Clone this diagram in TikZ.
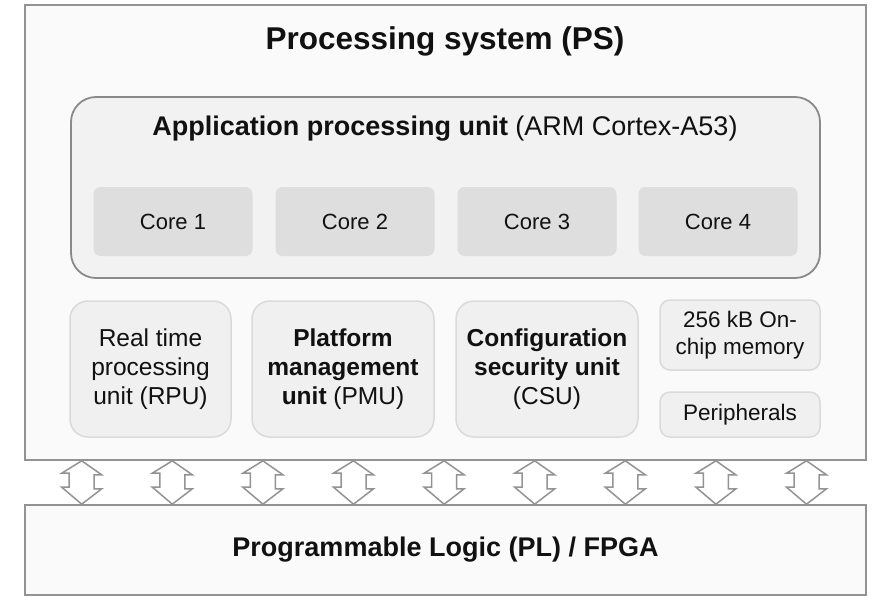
\documentclass[tikz,border=0pt]{standalone}
\usepackage{fontspec}
\setmainfont{Liberation Sans}
\definecolor{psfill}{HTML}{FAFAFA}
\definecolor{psline}{HTML}{939393}
\definecolor{apufill}{HTML}{F2F2F2}
\definecolor{apuline}{HTML}{8A8A8A}
\definecolor{corefill}{HTML}{DEDEDE}
\definecolor{unitfill}{HTML}{F0F0F0}
\definecolor{unitline}{HTML}{DADADA}
\definecolor{txt}{HTML}{111111}
\tikzset{
  bigbox/.style={draw=psline, fill=psfill, line width=1.6pt, inner sep=0pt},
  apubox/.style={draw=apuline, fill=apufill, line width=1.8pt, rounded corners=25pt, inner sep=0pt},
  corebox/.style={fill=corefill, rounded corners=7pt, inner sep=0pt, minimum width=159pt, minimum height=69pt, text=txt, font=\fontsize{22}{26}\selectfont},
  unitbox/.style={draw=unitline, fill=unitfill, line width=1.5pt, rounded corners=18pt, inner sep=0pt, minimum height=136pt, align=center, text=txt, font=\fontsize{24.5}{29}\selectfont},
  smallbox/.style={draw=unitline, fill=unitfill, line width=1.5pt, rounded corners=10pt, inner sep=0pt, minimum width=160pt, align=center, text=txt, font=\fontsize{22.5}{27}\selectfont},
  busarrow/.style={draw=psline, fill=white, line width=1.5pt, line join=miter},
}
\begin{document}
\begin{tikzpicture}[x=1pt,y=-1pt]
\useasboundingbox (0,0) rectangle (877,596);
\fill[white] (0,0) rectangle (877,596);
% Processing system
\node[bigbox, minimum width=841pt, minimum height=455pt] (ps) at (445.5,232.5) {};
\node[anchor=base, text=txt, font=\fontsize{31.5}{36}\selectfont\bfseries] (pstitle) at (445,50) {Processing system (PS)};
% APU
\node[apubox, minimum width=749pt, minimum height=181pt] (apu) at (445.5,187.5) {};
\node[anchor=base, text=txt, font=\fontsize{27}{32}\selectfont] (aputitle) at (445,136) {\textbf{Application processing unit} (ARM Cortex-A53)};
\node[corebox] (core1) at (173,221.5) {Core 1};
\node[corebox] (core2) at (355,221.5) {Core 2};
\node[corebox] (core3) at (537,221.5) {Core 3};
\node[corebox] (core4) at (718,221.5) {Core 4};
% lower units
\node[unitbox, minimum width=161pt] (rpu) at (150.5,369) {Real time\\processing\\unit (RPU)};
\node[unitbox, minimum width=182pt] (pmu) at (343,369) {\textbf{Platform}\\\textbf{management}\\\textbf{unit} (PMU)};
\node[unitbox, minimum width=182pt] (csu) at (547,369) {\textbf{Configuration}\\\textbf{security unit}\\(CSU)};
\node[smallbox, minimum height=70pt] (ocm) at (740,335) {256 kB On-\\chip memory};
\node[smallbox, minimum height=45pt] (periph) at (740,414.5) {Peripherals};
% Programmable logic
\node[bigbox, minimum width=841pt, minimum height=90pt, text=txt, font=\fontsize{27}{32}\selectfont\bfseries] (pl) at (445.5,550) {Programmable Logic (PL) / FPGA};
% bus arrows
\foreach \i in {0,...,8}{
  \path (ps.south west) ++({57.5+90.6*\i},0) coordinate (bt\i);
  \path (pl.north west) ++({57.5+90.6*\i},0) coordinate (bb\i);
  \draw[busarrow] (bt\i) -- ++(20,14) -- ++(-7.5,0) -- ++(0,14) -- ++(7.5,0) -- (bb\i)
     -- ++(-20,-17) -- ++(7.5,0) -- ++(0,-14) -- ++(-7.5,0) -- cycle;
}
\end{tikzpicture}
\end{document}
